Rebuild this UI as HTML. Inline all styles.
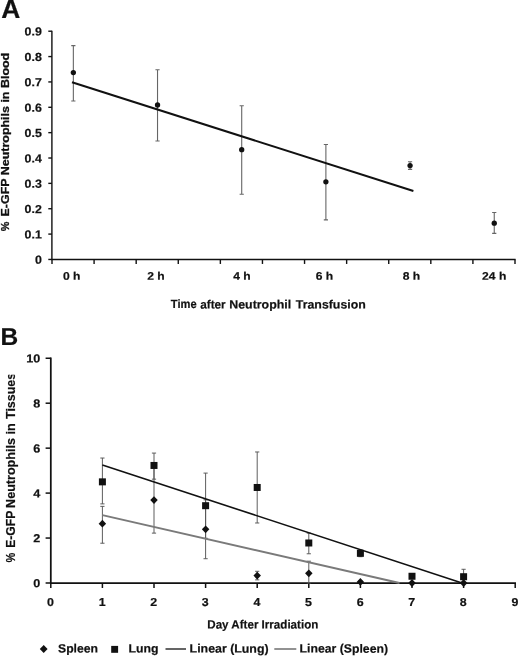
<!DOCTYPE html>
<html><head><meta charset="utf-8"><title>Figure</title>
<style>html,body{margin:0;padding:0;background:#fff}svg{display:block}text{font-family:"Liberation Sans",Arial,Helvetica,sans-serif;font-weight:bold;fill:#111;stroke:#111;stroke-width:.2px}</style>
</head><body>
<svg width="520" height="656" viewBox="0 0 520 656">
<rect width="520" height="656" fill="#fff"/>
<text transform="translate(1.20 18.00) rotate(0.03)" font-size="26.4">A</text>
<g stroke="#111" stroke-width="1.4" fill="none">
<path d="M51.90 30.71 V259.45 H515.60"/>
<path d="M48.3 259.45 H51.90"/>
<path d="M48.3 234.09 H51.90"/>
<path d="M48.3 208.73 H51.90"/>
<path d="M48.3 183.37 H51.90"/>
<path d="M48.3 158.01 H51.90"/>
<path d="M48.3 132.65 H51.90"/>
<path d="M48.3 107.29 H51.90"/>
<path d="M48.3 81.93 H51.90"/>
<path d="M48.3 56.57 H51.90"/>
<path d="M48.3 31.21 H51.90"/>
<path d="M52.00 259.45 V263.95"/>
<path d="M94.09 259.45 V263.95"/>
<path d="M136.18 259.45 V263.95"/>
<path d="M178.27 259.45 V263.95"/>
<path d="M220.36 259.45 V263.95"/>
<path d="M262.45 259.45 V263.95"/>
<path d="M304.55 259.45 V263.95"/>
<path d="M346.64 259.45 V263.95"/>
<path d="M388.73 259.45 V263.95"/>
<path d="M430.82 259.45 V263.95"/>
<path d="M472.91 259.45 V263.95"/>
<path d="M515.00 259.45 V263.95"/>
</g>
<text transform="translate(41.8 263.85) rotate(0.03) scale(1.05 1)" text-anchor="end" font-size="11.8">0</text>
<text transform="translate(41.8 238.49) rotate(0.03) scale(1.05 1)" text-anchor="end" font-size="11.8">0.1</text>
<text transform="translate(41.8 213.13) rotate(0.03) scale(1.05 1)" text-anchor="end" font-size="11.8">0.2</text>
<text transform="translate(41.8 187.77) rotate(0.03) scale(1.05 1)" text-anchor="end" font-size="11.8">0.3</text>
<text transform="translate(41.8 162.41) rotate(0.03) scale(1.05 1)" text-anchor="end" font-size="11.8">0.4</text>
<text transform="translate(41.8 137.05) rotate(0.03) scale(1.05 1)" text-anchor="end" font-size="11.8">0.5</text>
<text transform="translate(41.8 111.69) rotate(0.03) scale(1.05 1)" text-anchor="end" font-size="11.8">0.6</text>
<text transform="translate(41.8 86.33) rotate(0.03) scale(1.05 1)" text-anchor="end" font-size="11.8">0.7</text>
<text transform="translate(41.8 60.97) rotate(0.03) scale(1.05 1)" text-anchor="end" font-size="11.8">0.8</text>
<text transform="translate(41.8 35.61) rotate(0.03) scale(1.05 1)" text-anchor="end" font-size="11.8">0.9</text>
<text transform="translate(71.70 279.8) rotate(0.03) scale(1.1 1)" text-anchor="middle" font-size="11">0 h</text>
<text transform="translate(156.00 279.8) rotate(0.03) scale(1.1 1)" text-anchor="middle" font-size="11">2 h</text>
<text transform="translate(241.90 279.8) rotate(0.03) scale(1.1 1)" text-anchor="middle" font-size="11">4 h</text>
<text transform="translate(324.50 279.8) rotate(0.03) scale(1.1 1)" text-anchor="middle" font-size="11">6 h</text>
<text transform="translate(411.40 279.8) rotate(0.03) scale(1.1 1)" text-anchor="middle" font-size="11">8 h</text>
<text transform="translate(494.20 279.8) rotate(0.03) scale(1.1 1)" text-anchor="middle" font-size="11">24 h</text>
<text transform="translate(170.80 308.40) rotate(0.03)" font-size="12" textLength="25.80" lengthAdjust="spacingAndGlyphs">Time</text>
<text transform="translate(200.20 308.40) rotate(0.03)" font-size="12" textLength="25.50" lengthAdjust="spacingAndGlyphs">after</text>
<text transform="translate(229.20 308.40) rotate(0.03)" font-size="12" textLength="62.00" lengthAdjust="spacingAndGlyphs">Neutrophil</text>
<text transform="translate(295.80 308.40) rotate(0.03)" font-size="12" textLength="70.00" lengthAdjust="spacingAndGlyphs">Transfusion</text>
<text transform="translate(9.35 231.2) rotate(-90)" style="stroke-width:.3px" font-size="11.7" textLength="9.6" lengthAdjust="spacingAndGlyphs">%</text>
<text transform="translate(9.35 216.5) rotate(-90)" style="stroke-width:.3px" font-size="11.7" textLength="163.7" lengthAdjust="spacingAndGlyphs">E-GFP Neutrophils in Blood</text>
<g stroke="#666" stroke-width="1.1" fill="none">
<path d="M73.35 45.67 V100.95 M71.25 45.67 h4.2 M71.25 100.95 h4.2"/>
<path d="M157.53 69.76 V141.02 M155.43 69.76 h4.2 M155.43 141.02 h4.2"/>
<path d="M241.71 105.77 V194.27 M239.61 105.77 h4.2 M239.61 194.27 h4.2"/>
<path d="M325.89 144.57 V219.89 M323.79 144.57 h4.2 M323.79 219.89 h4.2"/>
<path d="M410.07 161.81 V169.42 M407.97 161.81 h4.2 M407.97 169.42 h4.2"/>
<path d="M494.25 212.53 V233.33 M492.15 212.53 h4.2 M492.15 233.33 h4.2"/>
</g>
<path d="M72 82.2 L413.4 191" stroke="#111" stroke-width="2" fill="none"/>
<circle cx="73.35" cy="72.55" r="2.65" fill="#111"/>
<circle cx="157.53" cy="105.01" r="2.65" fill="#111"/>
<circle cx="241.71" cy="149.64" r="2.65" fill="#111"/>
<circle cx="325.89" cy="181.85" r="2.65" fill="#111"/>
<circle cx="410.07" cy="165.62" r="2.65" fill="#111"/>
<circle cx="494.25" cy="223.19" r="2.65" fill="#111"/>
<text transform="translate(0.60 345.00) rotate(0.03)" font-size="24.5">B</text>
<g stroke="#111" stroke-width="1.75" fill="none">
<path d="M50.80 357.55 V583.00 H516.00"/>
</g>
<g stroke="#111" stroke-width="1.5" fill="none">
<path d="M45.6 583.00 H50.80"/>
<path d="M45.6 538.05 H50.80"/>
<path d="M45.6 493.10 H50.80"/>
<path d="M45.6 448.15 H50.80"/>
<path d="M45.6 403.20 H50.80"/>
<path d="M45.6 358.25 H50.80"/>
<path d="M50.80 583.00 V588.00"/>
<path d="M102.40 583.00 V588.00"/>
<path d="M154.00 583.00 V588.00"/>
<path d="M205.60 583.00 V588.00"/>
<path d="M257.20 583.00 V588.00"/>
<path d="M308.80 583.00 V588.00"/>
<path d="M360.40 583.00 V588.00"/>
<path d="M412.00 583.00 V588.00"/>
<path d="M463.60 583.00 V588.00"/>
<path d="M515.20 583.00 V588.00"/>
</g>
<text transform="translate(40.3 587.30) rotate(0.03) scale(1.08 1)" text-anchor="end" font-size="11.7">0</text>
<text transform="translate(40.3 542.35) rotate(0.03) scale(1.08 1)" text-anchor="end" font-size="11.7">2</text>
<text transform="translate(40.3 497.40) rotate(0.03) scale(1.08 1)" text-anchor="end" font-size="11.7">4</text>
<text transform="translate(40.3 452.45) rotate(0.03) scale(1.08 1)" text-anchor="end" font-size="11.7">6</text>
<text transform="translate(40.3 407.50) rotate(0.03) scale(1.08 1)" text-anchor="end" font-size="11.7">8</text>
<text transform="translate(40.3 362.55) rotate(0.03) scale(1.08 1)" text-anchor="end" font-size="11.7">10</text>
<text transform="translate(50.50 606.1) rotate(0.03) scale(1.08 1)" text-anchor="middle" font-size="11.5">0</text>
<text transform="translate(102.10 606.1) rotate(0.03) scale(1.08 1)" text-anchor="middle" font-size="11.5">1</text>
<text transform="translate(153.70 606.1) rotate(0.03) scale(1.08 1)" text-anchor="middle" font-size="11.5">2</text>
<text transform="translate(205.30 606.1) rotate(0.03) scale(1.08 1)" text-anchor="middle" font-size="11.5">3</text>
<text transform="translate(256.90 606.1) rotate(0.03) scale(1.08 1)" text-anchor="middle" font-size="11.5">4</text>
<text transform="translate(308.50 606.1) rotate(0.03) scale(1.08 1)" text-anchor="middle" font-size="11.5">5</text>
<text transform="translate(360.10 606.1) rotate(0.03) scale(1.08 1)" text-anchor="middle" font-size="11.5">6</text>
<text transform="translate(411.70 606.1) rotate(0.03) scale(1.08 1)" text-anchor="middle" font-size="11.5">7</text>
<text transform="translate(463.30 606.1) rotate(0.03) scale(1.08 1)" text-anchor="middle" font-size="11.5">8</text>
<text transform="translate(514.90 606.1) rotate(0.03) scale(1.08 1)" text-anchor="middle" font-size="11.5">9</text>
<text transform="translate(207.30 628.40) rotate(0.03)" font-size="12" textLength="111.00" lengthAdjust="spacingAndGlyphs">Day After Irradiation</text>
<clipPath id="cb"><rect x="0" y="374.85" width="30" height="200"/></clipPath>
<g clip-path="url(#cb)" style="stroke-width:.3px">
<text transform="translate(14.9 562.4) rotate(-90)" font-size="12.5" textLength="9.8" lengthAdjust="spacingAndGlyphs">%</text>
<text transform="translate(14.9 547.8) rotate(-90)" font-size="12.5" textLength="37.1" lengthAdjust="spacingAndGlyphs">E-GFP</text>
<text transform="translate(14.9 507.9) rotate(-90)" font-size="12.5" textLength="84.5" lengthAdjust="spacingAndGlyphs">Neutrophils in</text>
<text transform="translate(14.9 418.95) rotate(-90)" font-size="12.5" textLength="46" lengthAdjust="spacingAndGlyphs">Tissues</text>
</g>
<g stroke="#555" stroke-width="0.95" fill="none">
<path d="M102.40 458.04 V503.89 M100.30 458.04 h4.2 M100.30 503.89 h4.2"/>
<path d="M154.00 453.09 V479.17 M151.90 453.09 h4.2 M151.90 479.17 h4.2"/>
<path d="M205.60 473.10 V538.27 M203.50 473.10 h4.2 M203.50 538.27 h4.2"/>
<path d="M257.20 451.97 V522.99 M255.10 451.97 h4.2 M255.10 522.99 h4.2"/>
<path d="M308.80 533.11 V553.78 M306.70 533.11 h4.2 M306.70 553.78 h4.2"/>
<path d="M360.40 549.96 V556.70 M358.30 549.96 h4.2 M358.30 556.70 h4.2"/>
<path d="M412.00 574.91 V577.61 M409.90 574.91 h4.2 M409.90 577.61 h4.2"/>
<path d="M463.60 569.29 V583.00 M461.50 569.29 h4.2 M461.50 583.00 h4.2"/>
<path d="M102.40 506.36 V543.22 M100.30 506.36 h4.2 M100.30 543.22 h4.2"/>
<path d="M154.00 467.03 V533.11 M151.90 467.03 h4.2 M151.90 533.11 h4.2"/>
<path d="M205.60 499.84 V558.73 M203.50 499.84 h4.2 M203.50 558.73 h4.2"/>
<path d="M257.20 571.31 V579.85 M255.10 571.31 h4.2 M255.10 579.85 h4.2"/>
<path d="M308.80 561.20 V583.00 M306.70 561.20 h4.2 M306.70 583.00 h4.2"/>
<path d="M360.40 580.75 V583.00 M358.30 580.75 h4.2 M358.30 583.00 h4.2"/>
<path d="M412.00 582.33 V583.00 M409.90 582.33 h4.2 M409.90 583.00 h4.2"/>
<path d="M463.60 582.33 V583.00 M461.50 582.33 h4.2 M461.50 583.00 h4.2"/>
</g>
<path d="M102.40 515.13 L399.50 583.00" stroke="#7a7a7a" stroke-width="2" fill="none"/>
<path d="M102.40 465.01 L462.00 583.00" stroke="#111" stroke-width="1.6" fill="none"/>
<path d="M102.40 519.77 l3.75 3.9 l-3.75 3.9 l-3.75 -3.9 z" fill="#111"/>
<path d="M154.00 496.17 l3.75 3.9 l-3.75 3.9 l-3.75 -3.9 z" fill="#111"/>
<path d="M205.60 525.38 l3.75 3.9 l-3.75 3.9 l-3.75 -3.9 z" fill="#111"/>
<path d="M257.20 571.68 l3.75 3.9 l-3.75 3.9 l-3.75 -3.9 z" fill="#111"/>
<path d="M308.80 569.44 l3.75 3.9 l-3.75 3.9 l-3.75 -3.9 z" fill="#111"/>
<path d="M360.40 577.98 l3.75 3.9 l-3.75 3.9 l-3.75 -3.9 z" fill="#111"/>
<path d="M412.00 579.10 l3.75 3.9 l-3.75 3.9 l-3.75 -3.9 z" fill="#111"/>
<path d="M463.60 579.10 l3.75 3.9 l-3.75 3.9 l-3.75 -3.9 z" fill="#111"/>
<rect x="98.90" y="478.36" width="7" height="7" fill="#111"/>
<rect x="150.50" y="461.96" width="7" height="7" fill="#111"/>
<rect x="202.10" y="502.19" width="7" height="7" fill="#111"/>
<rect x="253.70" y="483.98" width="7" height="7" fill="#111"/>
<rect x="305.30" y="539.49" width="7" height="7" fill="#111"/>
<rect x="356.90" y="549.83" width="7" height="7" fill="#111"/>
<rect x="408.50" y="572.76" width="7" height="7" fill="#111"/>
<rect x="460.10" y="573.21" width="7" height="7" fill="#111"/>
<path d="M43.7 645.1 l3.9 3.9 l-3.9 3.9 l-3.9 -3.9 z" fill="#111"/>
<text transform="translate(58.00 652.60) rotate(0.03)" font-size="12" textLength="40.00" lengthAdjust="spacingAndGlyphs">Spleen</text>
<rect x="111.2" y="645.9" width="6.9" height="6.9" fill="#111"/>
<text transform="translate(128.60 652.60) rotate(0.03)" font-size="12" textLength="30.00" lengthAdjust="spacingAndGlyphs">Lung</text>
<path d="M165.5 649 H186" stroke="#111" stroke-width="1.3"/>
<text transform="translate(189.60 652.60) rotate(0.03)" font-size="12" textLength="79.00" lengthAdjust="spacingAndGlyphs">Linear (Lung)</text>
<path d="M274.3 649 H296.3" stroke="#777" stroke-width="1.6"/>
<text transform="translate(299.60 652.60) rotate(0.03)" font-size="12" textLength="88.40" lengthAdjust="spacingAndGlyphs">Linear (Spleen)</text>
</svg></body></html>
